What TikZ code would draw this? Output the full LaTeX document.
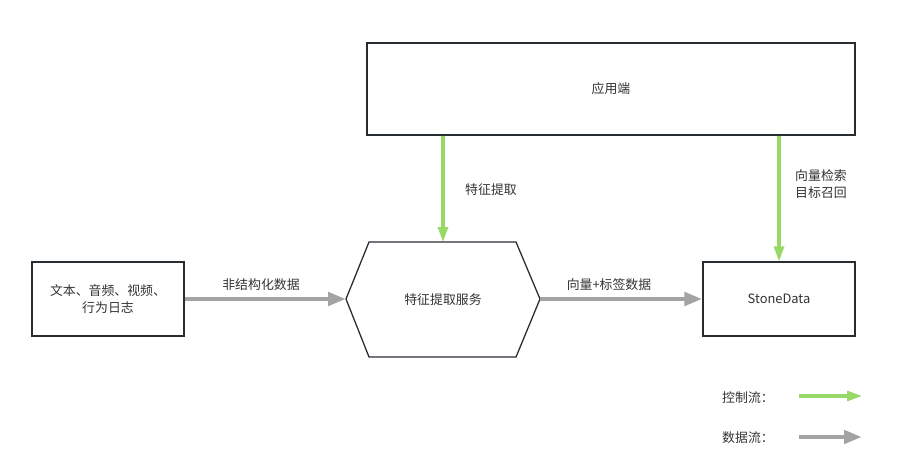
\documentclass[tikz,border=0pt]{standalone}
\usepackage{fontspec}
\setmainfont{Noto Sans CJK SC}
\usetikzlibrary{arrows.meta, positioning}
\definecolor{ctrlgreen}{RGB}{151,216,103}
\definecolor{datagray}{RGB}{163,163,163}
\definecolor{boxline}{RGB}{40,45,50}
\definecolor{txtgray}{RGB}{51,51,51}

\begin{document}
\begin{tikzpicture}[x=0.03cm, y=-0.03cm,
    font=\fontsize{11}{15}\selectfont, text=txtgray,
    box/.style={rectangle, draw=boxline, line width=1.1pt, fill=white,
      align=center, inner sep=0pt},
    hexline/.style={draw=boxline, line width=1.1pt, line join=miter},
    ctrl/.style={-{Triangle[length=0.45cm, width=0.3cm]}, ctrlgreen, line width=2.6pt},
    data/.style={-{Triangle[length=0.54cm, width=0.39cm]}, datagray, line width=4.2pt},
    lbl/.style={inner sep=0pt, align=left}]
    \useasboundingbox (0,0) rectangle (905,474);
    \node[box, minimum width=14.64cm, minimum height=2.76cm] (app) at (611,89) {应用端};
    \node[box, minimum width=4.56cm, minimum height=2.22cm] (src) at (108,299) {文本、音频、视频、\\行为日志};
    \node[box, minimum width=4.56cm, minimum height=2.22cm] (stone) at (779,299) {StoneData};
    \coordinate (svcW) at (346,299);
    \coordinate (svcN) at (443,242);
    \coordinate (svcE) at (540,299);
    \draw[hexline] (svcW) -- (369,242) -- (516,242) -- (svcE) -- (516,357) -- (369,357) -- cycle;
    \node (svc) at (443,300) {特征提取服务};
    \draw[ctrl] (app.south -| svcN) -- (svcN);
    \draw[ctrl] (app.south -| stone.north) -- (stone.north);
    \draw[data] (src.east) -- (svcW);
    \draw[data] (svcE) -- (stone.west);
    \node[lbl, anchor=west] (l1) at (465,190) {特征提取};
    \node[lbl, anchor=west] (l2) at (795,184) {向量检索\\目标召回};
    \node[lbl] (l3) at (261,285) {非结构化数据};
    \node[lbl] (l4) at (609,285) {向量+标签数据};
    \node[lbl, anchor=west] (ctrlkey) at (722,398) {控制流：};
    \node[lbl, anchor=west] (datakey) at (722,438) {数据流：};
    \coordinate (ctrlA) at (799,396);
    \coordinate (ctrlB) at (862,396);
    \coordinate (dataA) at (799,437);
    \coordinate (dataB) at (862,437);
    \draw[ctrl] (ctrlA) -- (ctrlB);
    \draw[data] (dataA) -- (dataB);
\end{tikzpicture}
\end{document}
